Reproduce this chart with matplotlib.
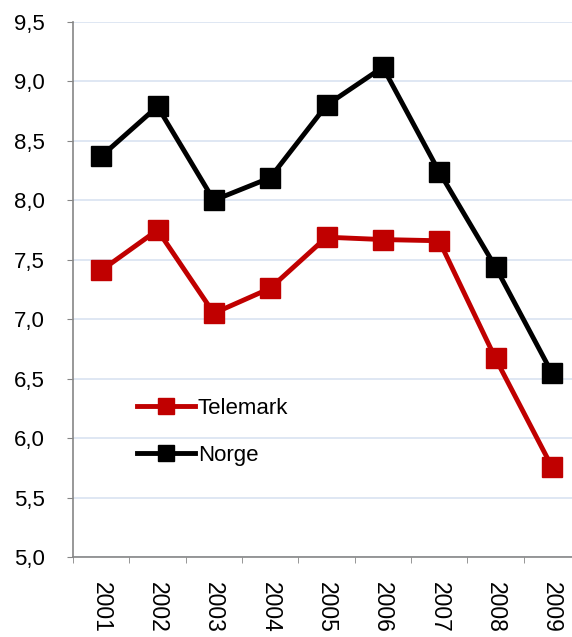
import matplotlib.pyplot as plt

plt.rcParams['font.family'] = ['Liberation Sans', 'DejaVu Sans']

years = ['2001', '2002', '2003', '2004', '2005', '2006', '2007', '2008', '2009']
telemark = [7.41, 7.75, 7.05, 7.26, 7.69, 7.67, 7.66, 6.67, 5.76]
norge = [8.37, 8.79, 8.00, 8.19, 8.80, 9.12, 8.24, 7.44, 6.55]
yticks = [5.0, 5.5, 6.0, 6.5, 7.0, 7.5, 8.0, 8.5, 9.0, 9.5]

W, H = 572, 637
fig = plt.figure(figsize=(W / 100, H / 100), dpi=100)
ax = fig.add_axes([73 / W, 1 - 557 / H, (580 - 73) / W, (557 - 22) / H])

x = list(range(len(years)))
ax.plot(x, telemark, color='#C00000', lw=3.5, marker='s', ms=15, label='Telemark')
ax.plot(x, norge, color='black', lw=3.5, marker='s', ms=15, label='Norge')

ax.set_xlim(-0.5, len(years) - 0.5)
ax.set_ylim(5.0, 9.5)
ax.set_yticks(yticks)
ax.set_yticklabels([f'{v:.1f}'.replace('.', ',') for v in yticks], fontsize=16)
ax.set_xticks(x)
ax.set_xticklabels(years, rotation=270, fontsize=16.5, va='top', ha='center')
ax.set_xticks([i - 0.5 for i in range(len(years) + 1)], minor=True)
ax.tick_params(axis='x', which='major', length=0, pad=18)
ax.tick_params(axis='x', which='minor', length=4.5, color='#868686')
ax.tick_params(axis='y', length=4.5, color='#868686', direction='out', pad=16)

ax.grid(axis='y', color='#D9E3F1', lw=1.2)
ax.set_axisbelow(True)
for s in ['top', 'right']:
    ax.spines[s].set_visible(False)
for s in ['left', 'bottom']:
    ax.spines[s].set_color('#868686')
    ax.spines[s].set_linewidth(1.2)

ax.legend(loc='upper left', bbox_to_anchor=(0.126, 0.298), frameon=False, fontsize=16,
          handlelength=2.6, handletextpad=0.15, markerscale=0.75, labelspacing=1.2,
          borderpad=0, borderaxespad=0)

fig.savefig('out.png', dpi=100)
